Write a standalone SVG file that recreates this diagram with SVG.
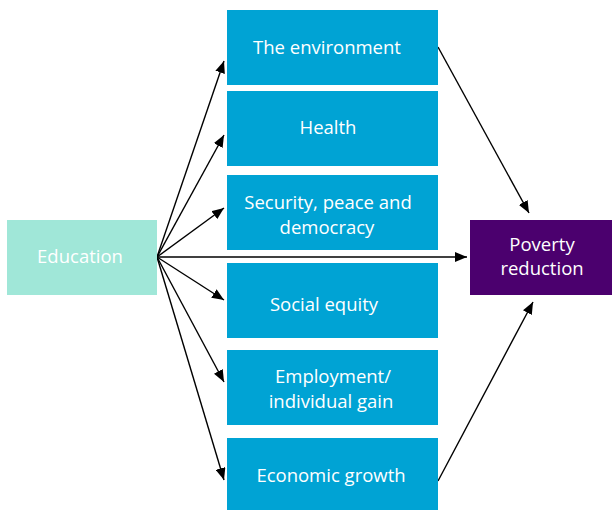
<svg xmlns="http://www.w3.org/2000/svg" width="612" height="510" viewBox="0 0 612 510">
<defs>
<marker id="ah" markerWidth="12" markerHeight="10" refX="12" refY="5" orient="auto" markerUnits="userSpaceOnUse">
<path d="M0,0 L12,5 L0,10 Z" fill="#000"/>
</marker>
<style>
.t{font-family:"Open Sans","Noto Sans",sans-serif;font-size:18.5px;fill:#fff;text-anchor:middle}
.mid{fill:#00a3d4}
.c{stroke:#000;stroke-width:1.4;fill:none;marker-end:url(#ah)}
</style>
</defs>
<rect width="612" height="510" fill="#fff"/>
<g id="connectors">
<line class="c" x1="157" y1="257" x2="224" y2="61"/>
<line class="c" x1="157" y1="257" x2="224" y2="135"/>
<line class="c" x1="157" y1="257" x2="224" y2="208"/>
<line class="c" x1="157" y1="257" x2="467" y2="257"/>
<line class="c" x1="157" y1="257" x2="224" y2="300"/>
<line class="c" x1="157" y1="257" x2="224" y2="382"/>
<line class="c" x1="157" y1="257" x2="224" y2="480"/>
<line class="c" x1="438" y1="47" x2="529" y2="213"/>
<line class="c" x1="438" y1="481" x2="533" y2="302"/>
</g>
<g id="education">
<rect x="7" y="220" width="150" height="75" fill="#a0e7d8"/>
<text class="t" x="80" y="263">Education</text>
</g>
<g id="environment">
<rect class="mid" x="227" y="10" width="211" height="75"/>
<text class="t" x="327" y="54">The environment</text>
</g>
<g id="health">
<rect class="mid" x="227" y="91" width="211" height="75"/>
<text class="t" x="328" y="134">Health</text>
</g>
<g id="security">
<rect class="mid" x="227" y="175" width="211" height="75"/>
<text class="t" x="328" y="209">Security, peace and</text>
<text class="t" x="327" y="234">democracy</text>
</g>
<g id="equity">
<rect class="mid" x="227" y="263" width="211" height="75"/>
<text class="t" x="324" y="311">Social equity</text>
</g>
<g id="employment">
<rect class="mid" x="227" y="350" width="211" height="75"/>
<text class="t" x="333" y="383">Employment/</text>
<text class="t" x="331" y="408">individual gain</text>
</g>
<g id="growth">
<rect class="mid" x="227" y="438" width="211" height="72"/>
<text class="t" x="331" y="482">Economic growth</text>
</g>
<g id="poverty">
<rect x="470" y="220" width="142" height="75" fill="#4b006e"/>
<text class="t" x="542" y="251">Poverty</text>
<text class="t" x="542" y="275">reduction</text>
</g>
</svg>
